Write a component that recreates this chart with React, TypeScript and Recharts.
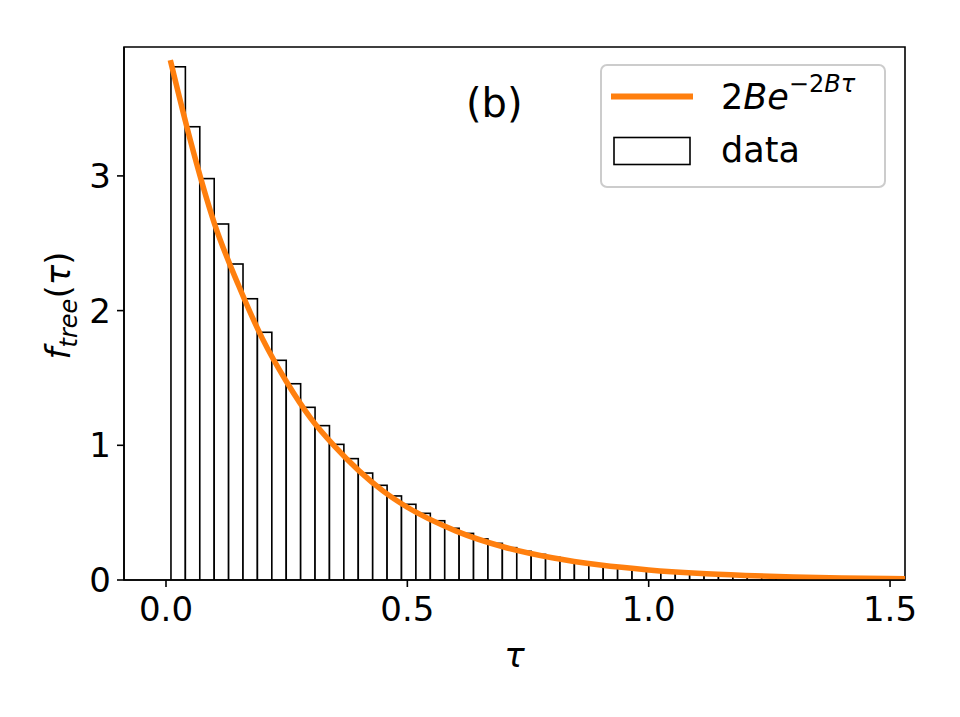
import {
  ComposedChart,
  Bar,
  Line,
  XAxis,
  YAxis,
  ReferenceArea,
  Legend,
  Customized,
} from 'recharts'

const FONT = '"DejaVu Sans", "Liberation Sans", sans-serif'
const ORANGE = '#ff7f0e'

// histogram bins (tau), first left edge and bin width
const binStart = 0.0103
const binWidth = 0.02985

// bar heights, one per bin
const binHeights = [
  3.81, 3.365, 2.98, 2.643, 2.346, 2.088, 1.839, 1.631, 1.457, 1.282,
  1.146, 1.007, 0.901, 0.794, 0.703, 0.624, 0.562, 0.495, 0.44, 0.384,
  0.346, 0.305, 0.272, 0.24, 0.213, 0.19, 0.168, 0.149, 0.132, 0.117,
  0.104, 0.092, 0.082, 0.073, 0.064, 0.057, 0.051, 0.045, 0.04, 0.035,
  0.031, 0.027, 0.024, 0.021, 0.019, 0.017, 0.015, 0.013, 0.012, 0.01,
]

// fitted curve 2B e^{-2B tau}
const fitTau = [
  0.0103, 0.05, 0.1, 0.15, 0.2, 0.25, 0.3, 0.35, 0.4, 0.45, 0.5,
  0.6, 0.7, 0.8, 0.9, 1.0, 1.1, 1.2, 1.3, 1.4, 1.531,
]
const fitValues = [
  3.84, 3.27, 2.65, 2.19, 1.79, 1.47, 1.2, 0.99, 0.81, 0.66, 0.54,
  0.365, 0.245, 0.165, 0.111, 0.075, 0.05, 0.034, 0.023, 0.015, 0.009,
]

const xTicks = [0, 0.5, 1.0, 1.5]
const yTicks = [0, 1, 2, 3]

const X_MIN = -0.087
const X_MAX = 1.531
const Y_MAX = 3.957

const W = 960
const H = 717
const MARGIN = { top: 47, right: 55, bottom: 77, left: 64 }
const Y_AXIS_W = 60
const X_AXIS_H = 60
const PLOT_W = W - MARGIN.left - MARGIN.right - Y_AXIS_W
const BAR_PX = (binWidth * PLOT_W) / (X_MAX - X_MIN)

type Row = { tau: number; count?: number; fit?: number }

const histRows: Row[] = binHeights.map((h, i) => ({
  tau: binStart + (i + 0.5) * binWidth,
  count: h,
}))
const fitRows: Row[] = fitTau.map((t, i) => ({ tau: t, fit: fitValues[i] }))
const rows: Row[] = [...histRows, ...fitRows].sort((a, b) => a.tau - b.tau)

// recharts squeezes bars on a number axis, so redraw each one at full bin width
// around the centre it was given
const HistBar = (props: any) => {
  const { x, y, width, height } = props
  if (!height || height <= 0) return null
  const cx = x + width / 2
  return (
    <rect
      x={cx - BAR_PX / 2}
      y={y}
      width={BAR_PX}
      height={height}
      fill="#fff"
      stroke="#000"
      strokeWidth={1.6}
    />
  )
}

const YTitle = (props: any) => {
  const vb = props.viewBox || { y: MARGIN.top, height: 533 }
  const cx = 70
  const cy = vb.y + vb.height / 2 - 8
  return (
    <text
      x={cx}
      y={cy}
      transform={`rotate(-90 ${cx} ${cy})`}
      textAnchor="middle"
      fontFamily={FONT}
      fontSize={34}
      fill="#000"
    >
      <tspan fontStyle="italic">f</tspan>
      <tspan fontStyle="italic" fontSize={24} dy={7}>
        tree
      </tspan>
      <tspan dy={-7}>(</tspan>
      <tspan fontStyle="italic">τ</tspan>
      <tspan>)</tspan>
    </text>
  )
}

const XTitle = (props: any) => {
  const vb = props.viewBox || { x: 124, width: PLOT_W }
  return (
    <text
      x={vb.x + vb.width / 2}
      y={667}
      textAnchor="middle"
      fontFamily={FONT}
      fontSize={34}
      fontStyle="italic"
      fill="#000"
    >
      τ
    </text>
  )
}

const PanelTag = () => (
  <text x={466} y={117} fontFamily={FONT} fontSize={40} fill="#000">
    (b)
  </text>
)

const LegendBox = () => (
  <svg width={288} height={126} style={{ display: 'block' }}>
    <rect
      x={1}
      y={1}
      width={284}
      height={122}
      rx={6}
      fill="#fff"
      fillOpacity={0.8}
      stroke="#cccccc"
      strokeWidth={2}
    />
    <line x1={11} x2={93} y1={32.5} y2={32.5} stroke={ORANGE} strokeWidth={6} />
    <text x={121} y={45} fontFamily={FONT} fontSize={35} fill="#000">
      2<tspan fontStyle="italic">Be</tspan>
      <tspan fontSize={24} dy={-17}>−2</tspan>
      <tspan fontSize={24} fontStyle="italic">Bτ</tspan>
    </text>
    <rect x={14} y={73.5} width={76} height={27} fill="#fff" stroke="#000" strokeWidth={1.6} />
    <text x={121} y={98} fontFamily={FONT} fontSize={35} fill="#000">
      data
    </text>
  </svg>
)

export default function App() {
  return (
    <div style={{ position: 'absolute', left: 0, top: 0, width: W, height: H, background: '#fff' }}>
      <ComposedChart width={W} height={H} data={rows} margin={MARGIN}>
        <XAxis
          dataKey="tau"
          type="number"
          domain={[X_MIN, X_MAX]}
          allowDataOverflow
          ticks={xTicks}
          tickFormatter={(v: number) => v.toFixed(1)}
          height={X_AXIS_H}
          tickSize={7}
          tickMargin={10}
          axisLine={{ stroke: '#000', strokeWidth: 1.6 }}
          tickLine={{ stroke: '#000', strokeWidth: 1.6 }}
          tick={{ fill: '#000', fontSize: 34, fontFamily: FONT }}
          label={<XTitle />}
        />
        <YAxis
          type="number"
          domain={[0, Y_MAX]}
          allowDataOverflow
          ticks={yTicks}
          width={Y_AXIS_W}
          tickSize={7}
          tickMargin={6}
          axisLine={{ stroke: '#000', strokeWidth: 1.6 }}
          tickLine={{ stroke: '#000', strokeWidth: 1.6 }}
          tick={{ fill: '#000', fontSize: 34, fontFamily: FONT }}
          label={<YTitle />}
        />
        <Bar
          dataKey="count"
          fill="#fff"
          stroke="#000"
          strokeWidth={1.6}
          shape={HistBar}
          isAnimationActive={false}
        />
        <Line
          dataKey="fit"
          type="monotone"
          connectNulls
          stroke={ORANGE}
          strokeWidth={5.5}
          strokeLinecap="square"
          dot={false}
          activeDot={false}
          isAnimationActive={false}
        />
        <ReferenceArea
          x1={X_MIN}
          x2={X_MAX}
          y1={0}
          y2={Y_MAX}
          fill="none"
          stroke="#000"
          strokeWidth={1.6}
          ifOverflow="visible"
        />
        <Customized component={PanelTag} />
        <Legend
          layout="vertical"
          align="center"
          verticalAlign="middle"
          content={<LegendBox />}
          wrapperStyle={{ left: 600, top: 64, width: 288, height: 126 }}
        />
      </ComposedChart>
    </div>
  )
}
